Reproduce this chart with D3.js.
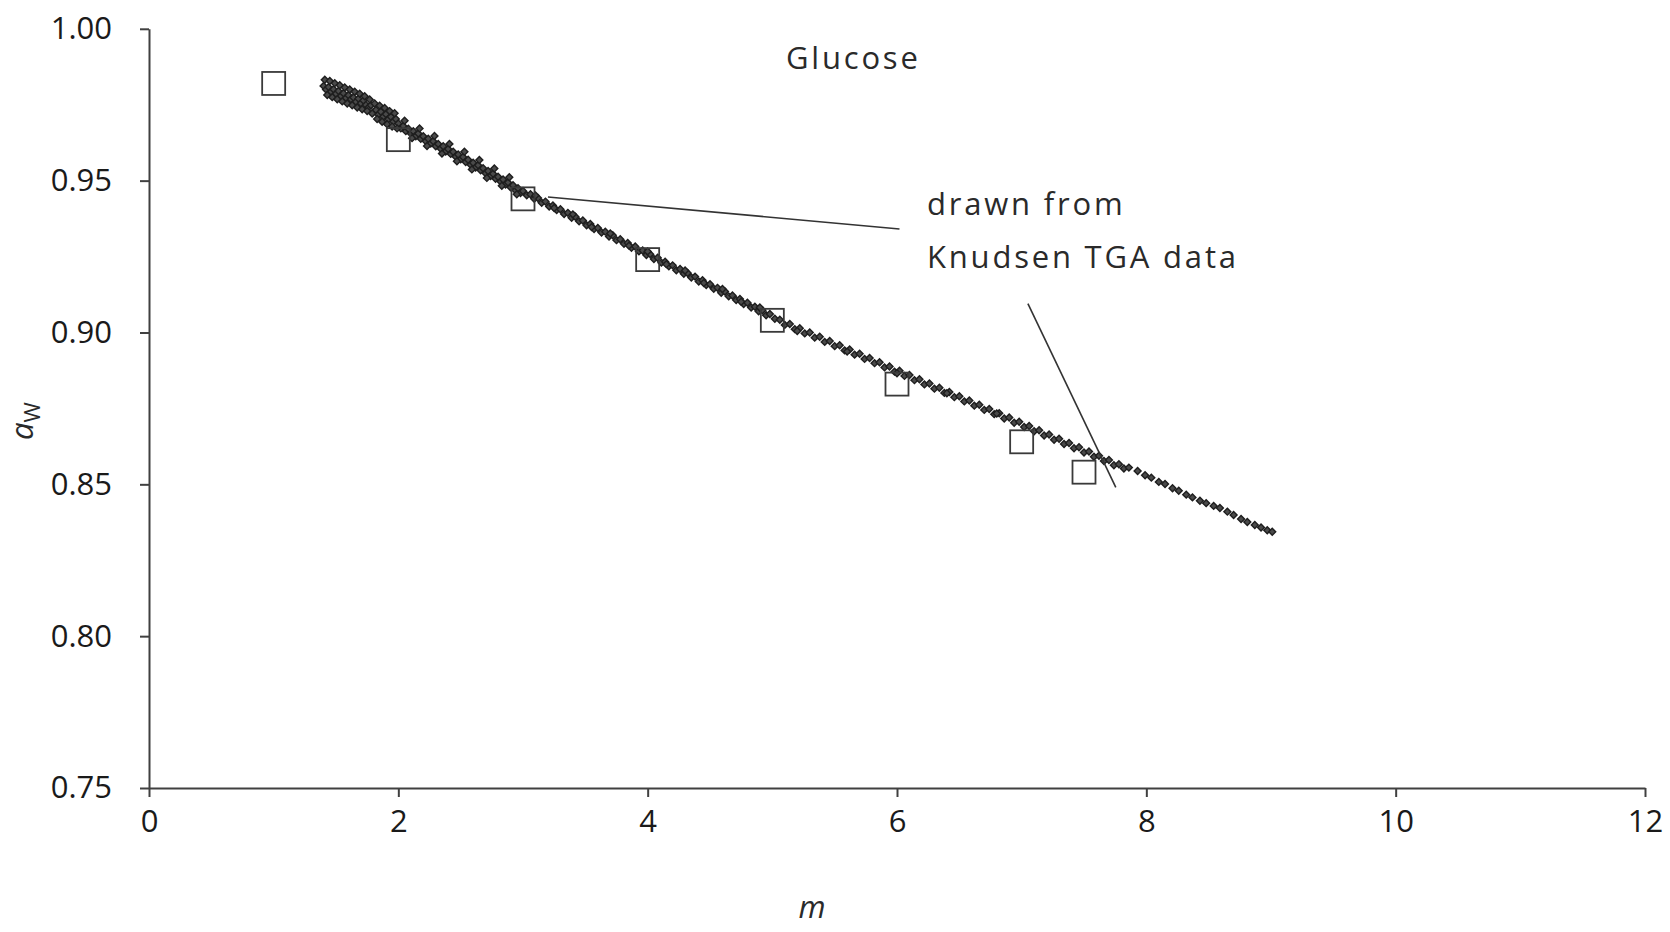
<!DOCTYPE html>
<html>
<head>
<meta charset="utf-8">
<script src="https://cdn.jsdelivr.net/npm/d3@7"></script>
<style>
  body { margin: 0; background: #fff; }
  svg { display: block; }
  .axis path, .axis line { stroke: #404040; stroke-width: 2; }
  .axis text { font-family: "Open Sans", sans-serif; font-size: 31px; fill: #1a1a1a; }
</style>
</head>
<body>
<div id="chart"></div>
<script>
// Tick values
const xTicks = [0, 2, 4, 6, 8, 10, 12];
const yTicks = [0.75, 0.80, 0.85, 0.90, 0.95, 1.00];

// Open squares (literature values)
const squareM = [1, 2, 3, 4, 5, 6, 7, 7.5];
const squareAw = [0.982, 0.9635, 0.944, 0.924, 0.904, 0.883, 0.864, 0.854];

// Knudsen TGA data (dense diamonds)
const tgaM = [
  1.40, 1.42, 1.44, 1.46, 1.48, 1.50, 1.52, 1.54, 1.56, 1.58,
  1.60, 1.62, 1.64, 1.66, 1.68, 1.70, 1.72, 1.74, 1.76, 1.78,
  1.80, 1.82, 1.84, 1.86, 1.88, 1.90, 1.92, 1.94, 1.96, 1.98,
  2.00, 2.02, 2.04, 2.06, 2.08, 2.10, 2.12, 2.14, 2.16, 2.18,
  2.20, 2.22, 2.24, 2.26, 2.28, 2.30, 2.32, 2.34, 2.36, 2.38,
  2.40, 2.42, 2.44, 2.46, 2.48, 2.50, 2.52, 2.54, 2.56, 2.58,
  2.60, 2.62, 2.64, 2.66, 2.68, 2.70, 2.72, 2.74, 2.76, 2.78,
  2.80, 2.82, 2.84, 2.86, 2.88, 2.90, 2.92, 2.94, 2.96, 2.98,
  3.00, 3.03, 3.06, 3.09, 3.12, 3.15, 3.18, 3.21, 3.24, 3.27,
  3.30, 3.33, 3.36, 3.39, 3.42, 3.45, 3.48, 3.51, 3.54, 3.57,
  3.60, 3.63, 3.66, 3.69, 3.72, 3.75, 3.78, 3.81, 3.84, 3.87,
  3.90, 3.93, 3.96, 3.99, 4.02, 4.05, 4.08, 4.11, 4.14, 4.17,
  4.20, 4.23, 4.26, 4.29, 4.32, 4.35, 4.38, 4.41, 4.44, 4.47,
  4.50, 4.53, 4.56, 4.59, 4.62, 4.65, 4.68, 4.71, 4.74, 4.77,
  4.80, 4.83, 4.86, 4.89, 4.92, 4.95, 4.98, 5.02, 5.06, 5.10,
  5.14, 5.18, 5.22, 5.26, 5.30, 5.34, 5.38, 5.42, 5.46, 5.50,
  5.54, 5.58, 5.62, 5.66, 5.70, 5.74, 5.78, 5.82, 5.86, 5.90,
  5.94, 5.98, 6.02, 6.06, 6.10, 6.14, 6.18, 6.22, 6.26, 6.30,
  6.34, 6.38, 6.42, 6.46, 6.50, 6.54, 6.58, 6.62, 6.66, 6.70,
  6.74, 6.78, 6.82, 6.86, 6.90, 6.94, 6.98, 7.02, 7.06, 7.10,
  7.14, 7.18, 7.22, 7.26, 7.30, 7.34, 7.38, 7.42, 7.46, 7.50,
  7.54, 7.58, 7.62, 7.66, 7.70, 7.74, 7.78, 7.82, 7.86, 7.93,
  7.99, 8.04, 8.10, 8.15, 8.21, 8.26, 8.32, 8.37, 8.43, 8.48,
  8.54, 8.59, 8.65, 8.70, 8.76, 8.81, 8.87, 8.92, 8.97, 9.01,
  // scatter around the band at low m
  1.41, 1.43, 1.45, 1.47, 1.49, 1.51, 1.53, 1.55, 1.57, 1.59,
  1.61, 1.63, 1.65, 1.67, 1.69, 1.71, 1.73, 1.75, 1.77, 1.79,
  1.81, 1.83, 1.85, 1.87, 1.89, 1.91, 1.93, 1.95, 1.97, 1.99,
  2.05, 2.11, 2.17, 2.23, 2.29, 2.35, 2.41, 2.47, 2.53, 2.59,
  2.65, 2.71, 2.77, 2.83, 2.89, 2.95, 3.10, 3.25, 3.40, 3.55,
  3.70, 3.85, 4.00, 4.15, 4.30, 4.45, 4.60, 4.75, 4.90, 5.20,
  5.60, 6.00, 6.40, 6.80
];
const tgaAw = [
  0.9812, 0.9800, 0.9808, 0.9793, 0.9801, 0.9786, 0.9795, 0.9779, 0.9788, 0.9772,
  0.9781, 0.9768, 0.9774, 0.9760, 0.9770, 0.9755, 0.9764, 0.9749, 0.9741, 0.9748,
  0.9726, 0.9733, 0.9718, 0.9727, 0.9711, 0.9719, 0.9702, 0.9710, 0.9695, 0.9703,
  0.9688, 0.9672, 0.9680, 0.9663, 0.9671, 0.9655, 0.9663, 0.9646, 0.9655, 0.9638,
  0.9646, 0.9630, 0.9638, 0.9622, 0.9630, 0.9613, 0.9621, 0.9605, 0.9613, 0.9596,
  0.9604, 0.9588, 0.9595, 0.9579, 0.9586, 0.9570, 0.9578, 0.9561, 0.9569, 0.9552,
  0.9559, 0.9543, 0.9551, 0.9534, 0.9541, 0.9524, 0.9532, 0.9515, 0.9523, 0.9506,
  0.9513, 0.9497, 0.9504, 0.9487, 0.9494, 0.9478, 0.9485, 0.9468, 0.9475, 0.9459,
  0.9466, 0.9452, 0.9455, 0.9440, 0.9443, 0.9427, 0.9431, 0.9415, 0.9418, 0.9403,
  0.9406, 0.9390, 0.9394, 0.9378, 0.9381, 0.9366, 0.9369, 0.9353, 0.9357, 0.9341,
  0.9344, 0.9329, 0.9332, 0.9316, 0.9320, 0.9304, 0.9307, 0.9292, 0.9295, 0.9279,
  0.9283, 0.9267, 0.9270, 0.9255, 0.9258, 0.9242, 0.9246, 0.9230, 0.9233, 0.9218,
  0.9221, 0.9205, 0.9209, 0.9193, 0.9196, 0.9181, 0.9184, 0.9168, 0.9172, 0.9156,
  0.9159, 0.9144, 0.9147, 0.9131, 0.9135, 0.9119, 0.9122, 0.9107, 0.9110, 0.9094,
  0.9098, 0.9082, 0.9085, 0.9070, 0.9073, 0.9057, 0.9061, 0.9045, 0.9042, 0.9025,
  0.9028, 0.9011, 0.9014, 0.8997, 0.9000, 0.8983, 0.8986, 0.8969, 0.8972, 0.8955,
  0.8958, 0.8941, 0.8944, 0.8927, 0.8930, 0.8913, 0.8916, 0.8899, 0.8902, 0.8885,
  0.8888, 0.8871, 0.8874, 0.8857, 0.8860, 0.8843, 0.8846, 0.8829, 0.8832, 0.8815,
  0.8818, 0.8801, 0.8804, 0.8787, 0.8790, 0.8773, 0.8776, 0.8759, 0.8762, 0.8745,
  0.8748, 0.8731, 0.8734, 0.8717, 0.8720, 0.8703, 0.8706, 0.8689, 0.8692, 0.8675,
  0.8678, 0.8661, 0.8664, 0.8647, 0.8650, 0.8633, 0.8636, 0.8619, 0.8622, 0.8605,
  0.8608, 0.8591, 0.8594, 0.8577, 0.8580, 0.8563, 0.8566, 0.8552, 0.8555, 0.8544,
  0.8530, 0.8522, 0.8508, 0.8501, 0.8487, 0.8479, 0.8466, 0.8457, 0.8446, 0.8438,
  0.8429, 0.8422, 0.8410, 0.8399, 0.8386, 0.8376, 0.8366, 0.8358, 0.8349, 0.8344,
  0.9832, 0.9782, 0.9828, 0.9775, 0.9821, 0.9768, 0.9814, 0.9761, 0.9807, 0.9754,
  0.9800, 0.9748, 0.9793, 0.9741, 0.9786, 0.9735, 0.9778, 0.9729, 0.9767, 0.9721,
  0.9754, 0.9703, 0.9747, 0.9694, 0.9739, 0.9686, 0.9729, 0.9678, 0.9722, 0.9672,
  0.9697, 0.9640, 0.9672, 0.9614, 0.9647, 0.9589, 0.9621, 0.9564, 0.9595, 0.9537,
  0.9568, 0.9509, 0.9540, 0.9483, 0.9511, 0.9455, 0.9451, 0.9410, 0.9389, 0.9347,
  0.9326, 0.9286, 0.9267, 0.9225, 0.9204, 0.9163, 0.9143, 0.9101, 0.9082, 0.9005,
  0.8937, 0.8866, 0.8800, 0.8733
];

// Annotation pointer lines, in data units: [m1, aw1, m2, aw2]
const pointers = [
  [3.20, 0.9446, 6.02, 0.9341],
  [7.05, 0.9095, 7.755, 0.849]
];

const W = 1670, H = 932;

const svg = d3.select('#chart')
    .append('svg')
    .attr('width', W)
    .attr('height', H);

// Scales
const x = d3.scaleLinear().domain([0, 12]).range([149, 1645]);
const y = d3.scaleLinear().domain([0.75, 1.0]).range([788, 28.8]);

// Axes
svg.append('g')
    .attr('class', 'axis')
    .attr('transform', `translate(0,${y(0.75)})`)
    .call(d3.axisBottom(x).tickValues(xTicks).tickFormat(d3.format('d'))
        .tickSizeInner(9).tickSizeOuter(0).tickPadding(13));

svg.append('g')
    .attr('class', 'axis')
    .attr('transform', `translate(${x(0)},0)`)
    .call(d3.axisLeft(y).tickValues(yTicks).tickFormat(d3.format('.2f'))
        .tickSizeInner(9).tickSizeOuter(0).tickPadding(28));

// Knudsen TGA points
const diamond = d3.symbol().type(d3.symbolSquare).size(24);
svg.append('g')
    .selectAll('path')
    .data(tgaM.map((m, i) => [m, tgaAw[i]]))
    .join('path')
    .attr('d', diamond)
    .attr('transform', d => `translate(${x(d[0])},${y(d[1])}) rotate(45)`)
    .attr('fill', '#4a4a4a')
    .attr('stroke', '#1e1e1e')
    .attr('stroke-width', 1.4);

// Open squares
const sq = 23;
svg.append('g')
    .selectAll('rect')
    .data(squareM.map((m, i) => [m, squareAw[i]]))
    .join('rect')
    .attr('x', d => x(d[0]) - sq / 2)
    .attr('y', d => y(d[1]) - sq / 2)
    .attr('width', sq)
    .attr('height', sq)
    .attr('fill', 'none')
    .attr('stroke', '#3a3a3a')
    .attr('stroke-width', 1.8);

// Pointer lines
svg.append('g')
    .selectAll('line')
    .data(pointers)
    .join('line')
    .attr('x1', d => x(d[0]))
    .attr('y1', d => y(d[1]))
    .attr('x2', d => x(d[2]))
    .attr('y2', d => y(d[3]))
    .attr('stroke', '#333')
    .attr('stroke-width', 1.6);

// Texts
const txt = (tx, ty, s) => svg.append('text')
    .attr('x', tx).attr('y', ty)
    .attr('font-family', '"Open Sans", sans-serif')
    .attr('font-size', 31)
    .attr('letter-spacing', 2.8)
    .attr('fill', '#2a2a2a')
    .text(s);

txt(786, 69, 'Glucose');
txt(927, 215, 'drawn from');
txt(927, 268, 'Knudsen TGA data');

// Axis titles
svg.append('text')
    .attr('x', 812).attr('y', 918)
    .attr('text-anchor', 'middle')
    .attr('font-family', '"Open Sans", sans-serif')
    .attr('font-style', 'italic')
    .attr('font-size', 31)
    .attr('fill', '#2a2a2a')
    .text('m');

const yl = svg.append('text')
    .attr('transform', 'translate(33,421) rotate(-90)')
    .attr('text-anchor', 'middle')
    .attr('font-family', '"Open Sans", sans-serif')
    .attr('font-size', 31)
    .attr('fill', '#2a2a2a');
yl.append('tspan').attr('font-style', 'italic').text('a');
yl.append('tspan').attr('font-size', 22).attr('dy', 7).text('W');
</script>
</body>
</html>
